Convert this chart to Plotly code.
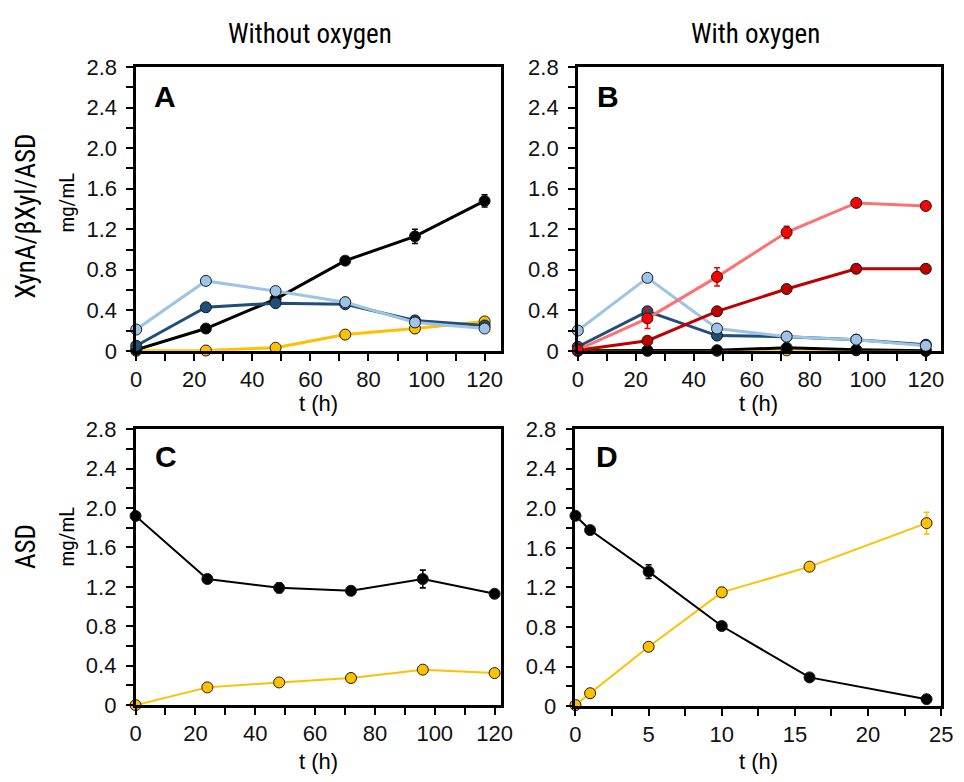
import plotly.graph_objects as go

# ---------------- data ----------------
t_hours = [0, 24, 48, 72, 96, 120]
t_hours_D = [0, 1, 5, 10, 16, 24]

# Panel A (without oxygen)
A_black = [0.01, 0.22, 0.51, 0.89, 1.13, 1.48]
A_black_err = [0.01, 0.02, 0.02, 0.02, 0.07, 0.06]
A_lightblue = [0.21, 0.69, 0.59, 0.48, 0.28, 0.22]
A_lightblue_err = [0.01, 0.02, 0.02, 0.05, 0.02, 0.02]
A_darkblue = [0.05, 0.43, 0.47, 0.46, 0.30, 0.25]
A_darkblue_err = [0.01, 0.02, 0.02, 0.04, 0.02, 0.02]
A_yellow = [0.0, 0.003, 0.03, 0.16, 0.22, 0.29]
A_yellow_err = [0.0, 0.005, 0.01, 0.01, 0.01, 0.01]

# Panel B (with oxygen)
B_lightred = [0.01, 0.32, 0.73, 1.17, 1.46, 1.43]
B_lightred_err = [0.01, 0.10, 0.09, 0.06, 0.02, 0.02]
B_darkred = [0.005, 0.10, 0.39, 0.61, 0.81, 0.81]
B_darkred_err = [0.01, 0.02, 0.03, 0.04, 0.02, 0.02]
B_lightblue = [0.20, 0.72, 0.22, 0.14, 0.11, 0.05]
B_lightblue_err = [0.01, 0.04, 0.02, 0.02, 0.01, 0.01]
B_darkblue = [0.04, 0.39, 0.15, 0.14, 0.11, 0.06]
B_darkblue_err = [0.01, 0.02, 0.02, 0.01, 0.01, 0.01]
B_black = [0.0, 0.003, 0.006, 0.03, 0.01, 0.0]
B_yellow = [0.0, 0.0, 0.0, 0.005, 0.005, 0.0]

# Panel C (ASD without oxygen)
C_black = [1.92, 1.28, 1.19, 1.16, 1.28, 1.13]
C_black_err = [0.01, 0.02, 0.05, 0.04, 0.09, 0.02]
C_yellow = [0.0, 0.18, 0.23, 0.275, 0.36, 0.325]
C_yellow_err = [0.005, 0.01, 0.01, 0.02, 0.02, 0.01]

# Panel D (ASD with oxygen)
D_black = [1.925, 1.78, 1.36, 0.81, 0.29, 0.07]
D_black_err = [0.01, 0.01, 0.07, 0.01, 0.01, 0.01]
D_yellow = [0.01, 0.13, 0.60, 1.15, 1.41, 1.85]
D_yellow_err = [0.005, 0.01, 0.02, 0.05, 0.02, 0.11]

y_tickvals = [0, 0.4, 0.8, 1.2, 1.6, 2.0, 2.4, 2.8]
y_ticktext = ["0", "0.4", "0.8", "1.2", "1.6", "2.0", "2.4", "2.8"]

BLACK = "#000000"
DARKBLUE = "#1F4E79"
LIGHTBLUE = "#9DC3E6"
YELLOW = "#FFC000"
DARKRED = "#C00000"
LIGHTRED_LINE = "#FF7070"
RED = "#FF0000"

FONT = "Liberation Sans, Arial, sans-serif"
NARROW = "Roboto Condensed, Liberation Sans Narrow, Arial Narrow, sans-serif"

fig = go.Figure()


def add(xv, yv, err, axis, line_color, marker_color, err_color, width):
    xa, ya = axis
    fig.add_trace(go.Scatter(
        x=xv, y=yv, xaxis=xa, yaxis=ya, mode="lines+markers",
        line=dict(color=line_color, width=width),
        marker=dict(size=11, color=marker_color, line=dict(color="#1a1a1a", width=1)),
        error_y=dict(type="data", array=err, visible=True,
                     color=err_color, thickness=1.6, width=3) if err is not None else None,
        cliponaxis=False, showlegend=False,
    ))


# Panel A
axA = ("x", "y")
add(t_hours, A_yellow, A_yellow_err, axA, YELLOW, YELLOW, YELLOW, 3)
add(t_hours, A_black, A_black_err, axA, BLACK, BLACK, BLACK, 3)
add(t_hours, A_darkblue, A_darkblue_err, axA, DARKBLUE, DARKBLUE, DARKBLUE, 3)
add(t_hours, A_lightblue, A_lightblue_err, axA, LIGHTBLUE, LIGHTBLUE, LIGHTBLUE, 3)

# Panel B
axB = ("x2", "y2")
add(t_hours, B_yellow, None, axB, YELLOW, YELLOW, YELLOW, 3)
add(t_hours, B_black, None, axB, BLACK, BLACK, BLACK, 3)
add(t_hours, B_darkblue, B_darkblue_err, axB, DARKBLUE, DARKBLUE, DARKBLUE, 3)
add(t_hours, B_lightblue, B_lightblue_err, axB, LIGHTBLUE, LIGHTBLUE, LIGHTBLUE, 3)
add(t_hours, B_darkred, B_darkred_err, axB, DARKRED, DARKRED, DARKRED, 3)
add(t_hours, B_lightred, B_lightred_err, axB, LIGHTRED_LINE, RED, RED, 3)

# Panel C
axC = ("x3", "y3")
add(t_hours, C_yellow, C_yellow_err, axC, YELLOW, YELLOW, YELLOW, 2)
add(t_hours, C_black, C_black_err, axC, BLACK, BLACK, BLACK, 2)

# Panel D
axD = ("x4", "y4")
add(t_hours_D, D_yellow, D_yellow_err, axD, YELLOW, YELLOW, YELLOW, 2)
add(t_hours_D, D_black, D_black_err, axD, BLACK, BLACK, BLACK, 2)

W, H = 964, 782


def xdom(l, r):
    return [l / W, r / W]


def ydom(top, bottom):
    return [1 - bottom / H, 1 - top / H]


common_axis = dict(
    showline=True, linecolor="black", linewidth=2.5, mirror=True,
    ticks="outside", ticklen=7, tickwidth=2, tickcolor="black",
    showgrid=False, zeroline=False,
    tickfont=dict(family=FONT, size=22, color="#111111"),
)


def xaxis(dom, rng, dtick, minor, anchor):
    d = dict(common_axis)
    d.update(domain=dom, range=rng, tickmode="linear", tick0=0, dtick=dtick,
             minor=dict(dtick=minor, ticks="outside", ticklen=7, tickwidth=2, tickcolor="black"),
             anchor=anchor)
    return d


def yaxis(dom, anchor):
    d = dict(common_axis)
    d.update(domain=dom, range=[0, 2.8], tickmode="array", tickvals=y_tickvals,
             ticktext=y_ticktext, ticklabelstandoff=5,
             minor=dict(dtick=0.2, tick0=0, ticks="outside", ticklen=7, tickwidth=2, tickcolor="black"),
             anchor=anchor)
    return d


fig.update_layout(
    width=W, height=H,
    margin=dict(l=0, r=0, t=0, b=0),
    paper_bgcolor="white", plot_bgcolor="white",
    xaxis=xaxis(xdom(132.7, 504), [0, 125.5], 20, 10, "y"),
    yaxis=yaxis(ydom(57, 350), "x"),
    xaxis2=xaxis(xdom(582.7, 953), [0, 125.3], 20, 10, "y2"),
    yaxis2=yaxis(ydom(57, 350), "x2"),
    xaxis3=xaxis(xdom(132, 504), [0, 122], 20, 10, "y3"),
    yaxis3=yaxis(ydom(431, 716), "x3"),
    xaxis4=xaxis(xdom(580.3, 953), [0, 25], 5, 2.5, "y4"),
    yaxis4=yaxis(ydom(431, 717), "x4"),
)


def ann(text, x, y, size, family=FONT, bold=False, angle=0):
    fig.add_annotation(
        text=f"<b>{text}</b>" if bold else text,
        x=x / W, y=1 - y / H, xref="paper", yref="paper",
        xanchor="center", yanchor="middle", showarrow=False, textangle=angle,
        font=dict(family=family, size=size, color="black"),
    )


ann("Without oxygen", 310, 23, 27, family=NARROW)
ann("With oxygen", 764, 23, 27, family=NARROW)
ann("XynA/βXyl/ASD", 21, 211, 27, family=NARROW, angle=-90)
ann("mg/mL", 62, 197, 21, family=NARROW, angle=-90)
ann("ASD", 21, 552, 27, family=NARROW, angle=-90)
ann("mg/mL", 62, 542, 21, family=NARROW, angle=-90)
ann("t (h)", 318, 404, 22)
ann("t (h)", 767, 404, 22)
ann("t (h)", 318, 774, 22)
ann("t (h)", 767, 774, 22)
ann("A", 162, 87, 30, bold=True)
ann("B", 613, 87, 30, bold=True)
ann("C", 163, 459, 30, bold=True)
ann("D", 612, 459, 30, bold=True)

fig.write_html("out.html")
